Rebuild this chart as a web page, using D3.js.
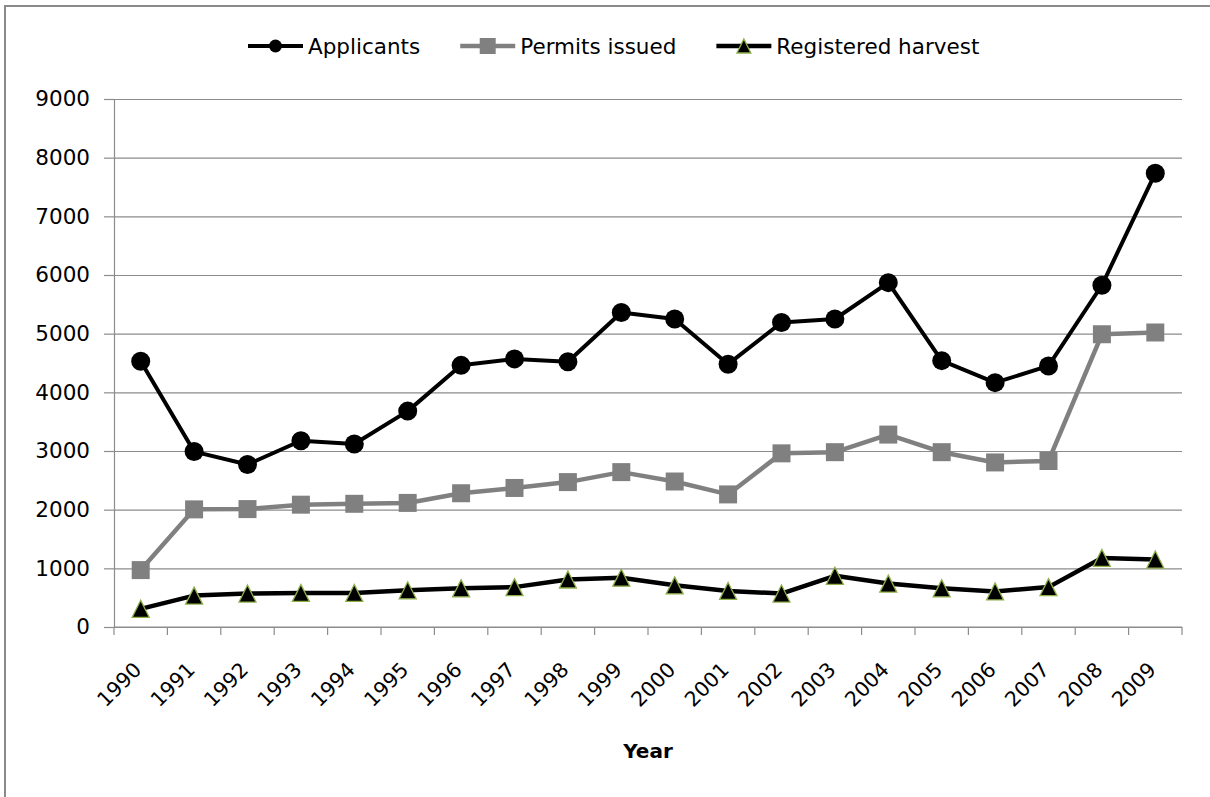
<!DOCTYPE html>
<html>
<head>
<meta charset="utf-8">
<script src="https://cdn.jsdelivr.net/npm/d3@7"></script>
<style>
  html, body { margin: 0; padding: 0; background: #fff; }
  svg { display: block; }
  text { font-family: "DejaVu Sans", sans-serif; fill: #000; }
</style>
</head>
<body>
<svg id="chart" width="1210" height="797"></svg>
<script>
const years = ["1990","1991","1992","1993","1994","1995","1996","1997","1998","1999",
               "2000","2001","2002","2003","2004","2005","2006","2007","2008","2009"];
const applicants = [4530, 2990, 2770, 3175, 3120, 3680, 4460, 4570, 4520, 5360,
                    5250, 4480, 5190, 5250, 5870, 4540, 4165, 4450, 5825, 7735];
const permits    = [970, 2005, 2010, 2085, 2100, 2115, 2280, 2370, 2470, 2640,
                    2480, 2260, 2960, 2980, 3280, 2980, 2805, 2830, 4990, 5020];
const harvest    = [310, 535, 570, 580, 580, 625, 660, 680, 810, 840,
                    710, 615, 570, 873, 740, 660, 606, 680, 1177, 1150];
const yTicks = [0, 1000, 2000, 3000, 4000, 5000, 6000, 7000, 8000, 9000];
const seriesNames = ["Applicants", "Permits issued", "Registered harvest"];
const xTitle = "Year";

const svg = d3.select("#chart");
const W = 1210, H = 797;
const pLeft = 114, pRight = 1182, pTop = 99, pBottom = 627;

// outer frame
svg.append("rect").attr("x", 5).attr("y", 6).attr("width", W + 20).attr("height", H + 20)
  .attr("fill", "#fff").attr("stroke", "#8a8a8a").attr("stroke-width", 2);

const x = d3.scaleBand().domain(years).range([pLeft, pRight]);
const y = d3.scaleLinear().domain([0, 9000]).range([pBottom, pTop]);
const cx = d => x(d) + x.bandwidth() / 2;

// gridlines + y axis
const yAxis = d3.axisLeft(y).tickValues(yTicks).tickFormat(d3.format("d")).tickSize(10).tickPadding(14);
const gy = svg.append("g").attr("transform", `translate(${pLeft},0)`).call(yAxis);
gy.select(".domain").attr("stroke", "#8c8c8c").attr("stroke-width", 1.2);
gy.selectAll(".tick line").attr("stroke", "#8c8c8c").attr("stroke-width", 1.2);
gy.selectAll(".tick text").style("font-size", "21.5px").style("font-family", "DejaVu Sans").attr("fill", "#000");
gy.selectAll(".tick").append("line")
  .attr("x1", 0).attr("x2", pRight - pLeft).attr("y1", 0).attr("y2", 0)
  .attr("stroke", "#8c8c8c").attr("stroke-width", 1.2);

// x axis: line, boundary ticks, rotated labels
const gx = svg.append("g");
gx.append("line").attr("x1", pLeft).attr("x2", pRight).attr("y1", pBottom).attr("y2", pBottom)
  .attr("stroke", "#8c8c8c").attr("stroke-width", 1.2);
const bounds = years.map(d => x(d)).concat([x.range()[1]]);
gx.selectAll("line.tk").data(bounds).join("line").attr("class", "tk")
  .attr("x1", d => d).attr("x2", d => d).attr("y1", pBottom).attr("y2", pBottom + 8)
  .attr("stroke", "#8c8c8c").attr("stroke-width", 1.2);
gx.selectAll("text.xl").data(years).join("text").attr("class", "xl")
  .attr("text-anchor", "end")
  .attr("transform", d => `translate(${cx(d) + 2},${pBottom + 44}) rotate(-45)`)
  .style("font-size", "20.5px")
  .text(d => d);

svg.append("text").attr("x", (pLeft + pRight) / 2).attr("y", 758)
  .attr("text-anchor", "middle").style("font-size", "20px").style("font-weight", "bold")
  .text(xTitle);

// marker shapes
const triType = { draw(ctx, size) { const h = Math.sqrt(size) / 2;
  ctx.moveTo(0, -h); ctx.lineTo(h, h); ctx.lineTo(-h, h); ctx.closePath(); } };
const styles = [
  { data: applicants, color: "#000", width: 4, sym: d3.symbolCircle, size: Math.PI * 9.5 * 9.5, lsize: Math.PI * 6.5 * 6.5, fill: "#000", stroke: "none" },
  { data: permits, color: "#808080", width: 4.5, sym: d3.symbolSquare, size: 18 * 18, lsize: 16 * 16, fill: "#808080", stroke: "none" },
  { data: harvest, color: "#000", width: 4.5, sym: triType, size: 17 * 17, lsize: 14 * 14, fill: "#000", stroke: "#8fb04a" }
];

const line = d3.line().x((d, i) => cx(years[i])).y(d => y(d));
styles.forEach((s, k) => {
  const g = svg.append("g");
  g.append("path").datum(s.data).attr("d", line).attr("fill", "none")
    .attr("stroke", s.color).attr("stroke-width", s.width).attr("stroke-linejoin", "round");
  g.selectAll("path.m").data(s.data).join("path").attr("class", "m")
    .attr("d", d3.symbol().type(s.sym).size(s.size))
    .attr("transform", (d, i) => `translate(${cx(years[i])},${y(d)})`)
    .attr("fill", s.fill).attr("stroke", s.stroke).attr("stroke-width", 1.3);
});

// legend
const leg = svg.append("g");
let lx = 248;
const ly = 46;
styles.forEach((s, k) => {
  const g = leg.append("g");
  g.append("line").attr("x1", lx).attr("x2", lx + 55).attr("y1", ly).attr("y2", ly)
    .attr("stroke", s.color).attr("stroke-width", s.width);
  g.append("path").attr("d", d3.symbol().type(s.sym).size(s.lsize))
    .attr("transform", `translate(${lx + 27.5},${ly})`)
    .attr("fill", s.fill).attr("stroke", s.stroke).attr("stroke-width", 1.3);
  const t = g.append("text").attr("x", lx + 60).attr("y", ly + 7.5).style("font-size", "21.5px")
    .text(seriesNames[k]);
  lx = lx + 60 + t.node().getComputedTextLength() + 40;
});
</script>
</body>
</html>
